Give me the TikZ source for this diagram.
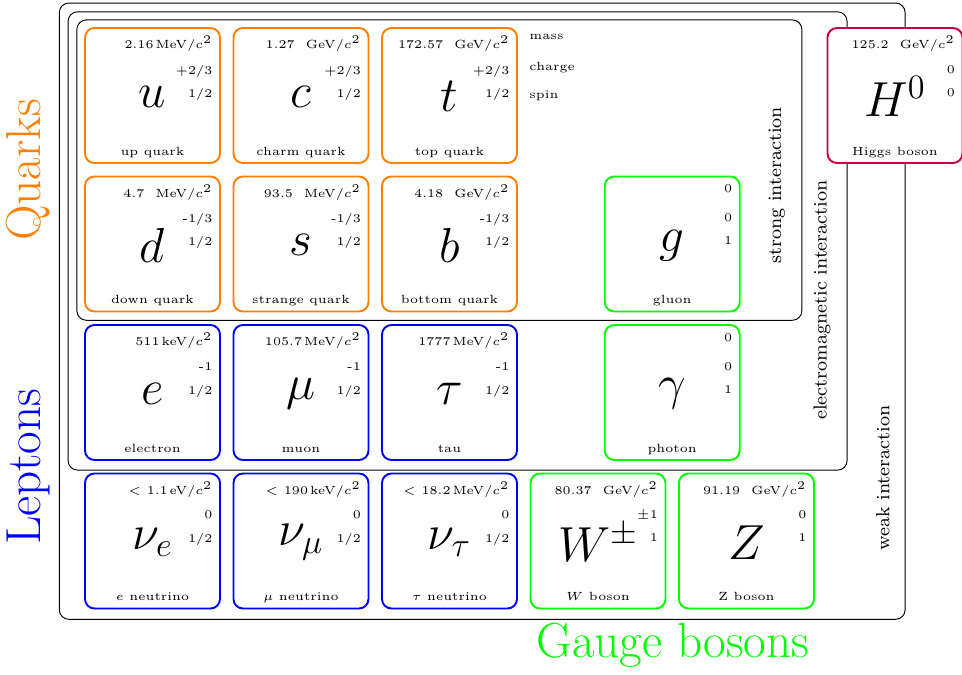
\documentclass[tikz,border=0pt]{standalone}
\usepackage{tikz}

\definecolor{higgscol}{rgb}{0.78,0,0.27}

\tikzset{
  pcell/.style={minimum size=2cm,inner sep=0pt,rounded corners,line width=0.8pt,fill=white},
  psym/.style={font=\huge,inner sep=0pt},
  pval/.style={font=\tiny,anchor=north east,inner sep=0pt},
  pname/.style={font=\tiny,anchor=base,inner sep=0pt},
  frame/.style={rounded corners,thin},
  group/.style={font=\huge,rotate=90},
  force/.style={font=\footnotesize,rotate=90}
}

% name, centre, colour, symbol, mass, charge, spin, label
\newcommand{\particle}[8]{%
  \node[pcell,draw=#3] (#1) at #2 {};
  \node[psym] (#1-sym) at ([yshift=-0.02cm]#1.center) {$#4$};
  \node[pval] (#1-mass) at ([xshift=-0.12cm,yshift=-0.13cm]#1.north east) {#5};
  \node[pval] (#1-charge) at ([xshift=-0.12cm,yshift=-0.56cm]#1.north east) {#6};
  \node[pval] (#1-spin) at ([xshift=-0.12cm,yshift=-0.9cm]#1.north east) {#7};
  \node[pname] (#1-name) at ([yshift=0.13cm]#1.south) {#8};
}

\begin{document}
\begin{tikzpicture}[x=1cm,y=1cm]
\useasboundingbox (-1.259,0.415) rectangle (12.993,-9.585);

% interaction frames
\draw[frame] (-0.38,0.37) rectangle (12.15,-8.76);
\draw[frame] (-0.25,0.24) rectangle (11.29,-6.55);
\draw[frame] (-0.12,0.12) rectangle (10.62,-4.33);

% quarks
\particle{u}{(1,-1)}{orange}{u}{2.16\,MeV/$c^2$}{+2/3}{1/2}{up quark}
\particle{c}{(3.2,-1)}{orange}{c}{1.27~~GeV/$c^2$}{+2/3}{1/2}{charm quark}
\particle{t}{(5.4,-1)}{orange}{t}{172.57~~GeV/$c^2$}{+2/3}{1/2}{top quark}
\particle{d}{(1,-3.2)}{orange}{d}{4.7~~MeV/$c^2$}{-1/3}{1/2}{down quark}
\particle{s}{(3.2,-3.2)}{orange}{s}{93.5~~MeV/$c^2$}{-1/3}{1/2}{strange quark}
\particle{b}{(5.4,-3.2)}{orange}{b}{4.18~~GeV/$c^2$}{-1/3}{1/2}{bottom quark}

% leptons
\particle{e}{(1,-5.4)}{blue}{e}{511\,keV/$c^2$}{-1}{1/2}{electron}
\particle{mu}{(3.2,-5.4)}{blue}{\mu}{105.7\,MeV/$c^2$}{-1}{1/2}{muon}
\particle{tau}{(5.4,-5.4)}{blue}{\tau}{1777\,MeV/$c^2$}{-1}{1/2}{tau}
\particle{nue}{(1,-7.6)}{blue}{\nu_e}{$<$~1.1\,eV/$c^2$}{0}{1/2}{$e$ neutrino}
\particle{numu}{(3.2,-7.6)}{blue}{\nu_\mu}{$<$~190\,keV/$c^2$}{0}{1/2}{$\mu$ neutrino}
\particle{nutau}{(5.4,-7.6)}{blue}{\nu_\tau}{$<$~18.2\,MeV/$c^2$}{0}{1/2}{$\tau$ neutrino}

% bosons
\particle{g}{(8.7,-3.2)}{green}{g}{0}{0}{1}{gluon}
\particle{gamma}{(8.7,-5.4)}{green}{\gamma}{0}{0}{1}{photon}
\particle{W}{(7.6,-7.6)}{green}{W^{\pm}}{80.37~~GeV/$c^2$}{$\pm$1}{1}{$W$ boson}
\particle{Z}{(9.8,-7.6)}{green}{Z}{91.19~~GeV/$c^2$}{0}{1}{Z boson}
\particle{H}{(12,-1)}{higgscol}{H^0}{125.2~~GeV/$c^2$}{0}{0}{Higgs boson}

% legend
\node[font=\tiny,anchor=west] (lmass) at (6.46,-0.13) {mass};
\node[font=\tiny,anchor=west] (lcharge) at (6.46,-0.58) {charge};
\node[font=\tiny,anchor=west] (lspin) at (6.46,-1.0) {spin};

% interaction labels
\node[force] (strong) at (10.25,-2.33) {strong interaction};
\node[force] (em) at (10.92,-4.03) {electromagnetic interaction};
\node[force] (weak) at (11.82,-6.67) {weak interaction};

% group labels
\node[group,orange] (quarks) at (-0.84,-2.1) {Quarks};
\node[group,blue] (leptons) at (-0.84,-6.5) {Leptons};
\node[font=\huge,green] (bosons) at (8.71,-9.14) {Gauge bosons};
\end{tikzpicture}
\end{document}
